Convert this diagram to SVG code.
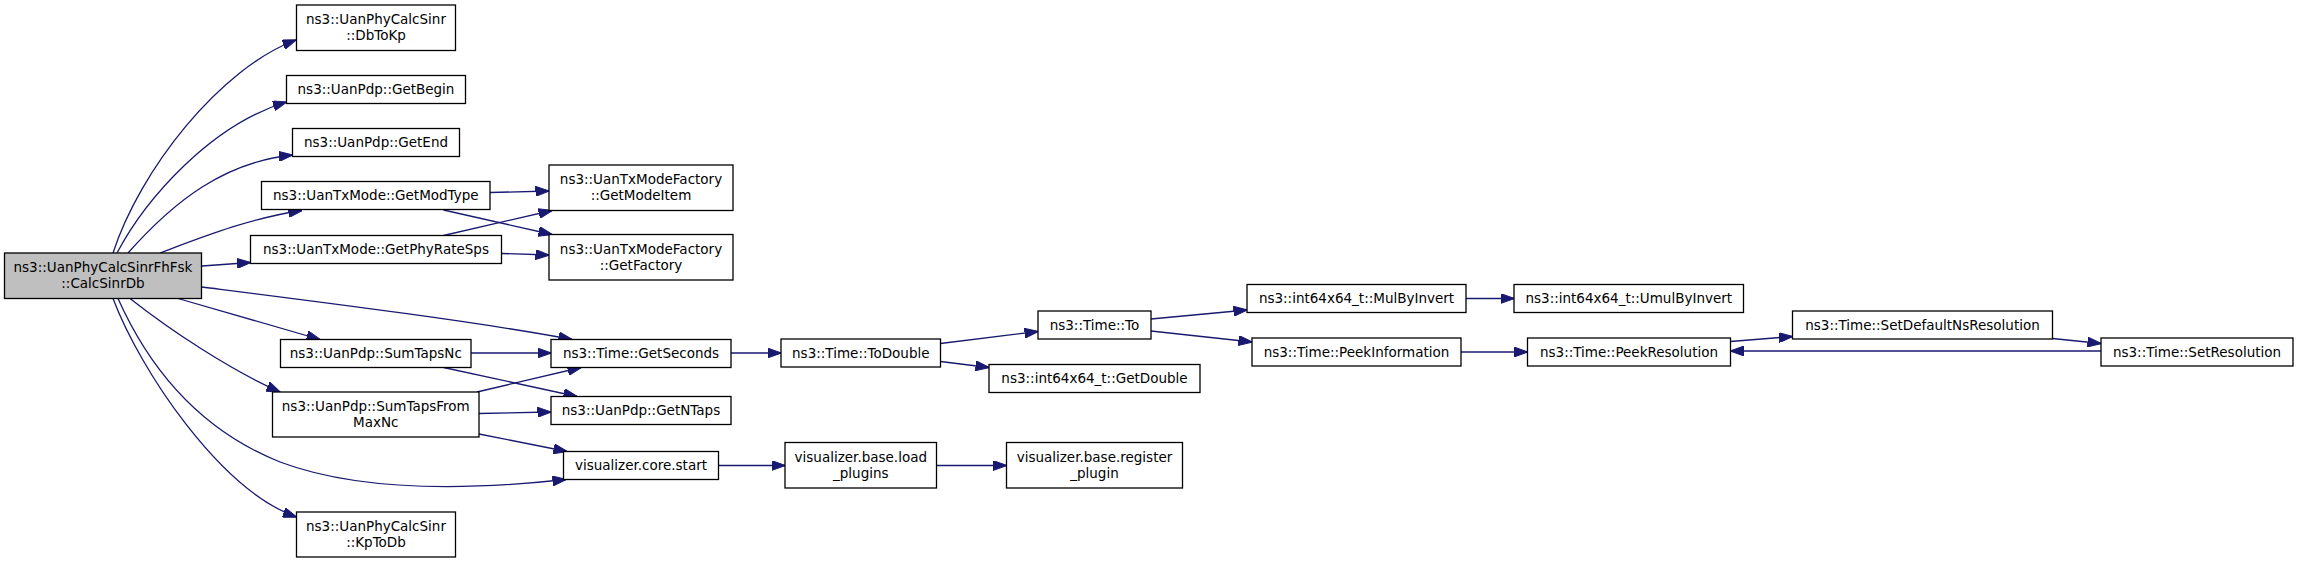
<svg xmlns="http://www.w3.org/2000/svg" width="2299" height="563" viewBox="0 0 2299 563">
<style>
.n rect{fill:#ffffff;stroke:#000000;stroke-width:1.3}
.n.main rect{fill:#bfbfbf}
.n text{font-family:"DejaVu Sans","Liberation Sans",sans-serif;font-size:13.5px;text-anchor:middle;fill:#000000}
.e path{fill:none;stroke:#191970;stroke-width:1.3;marker-end:url(#ah)}
</style>
<defs>
<marker id="ah" markerUnits="userSpaceOnUse" viewBox="0 0 14 10" markerWidth="14" markerHeight="10" refX="13.5" refY="5" orient="auto">
<path d="M0,0 L14,5 L0,10 z" fill="#191970" stroke="#191970" stroke-width="1"/>
</marker>
</defs>
<rect x="0" y="0" width="2299" height="563" fill="#ffffff"/>
<g id="edges" class="e">
<path d="M113,253 C140,170 220,68 296,40"/>
<path d="M117,253 C145,200 210,125 286.5,102"/>
<path d="M128,253 C175,200 225,162 292.5,155"/>
<path d="M160,253 C200,238 250,218 302,210.5"/>
<path d="M202,266 L250.5,262.5"/>
<path d="M202,287 C320,302 480,322 572,339.5"/>
<path d="M178,298.5 L320,339.5"/>
<path d="M130,298.5 C170,330 230,370 280,392"/>
<path d="M118,298.5 C150,370 200,430 280,462 C360,492 470,490 566,479.5"/>
<path d="M113,298.5 C140,370 220,490 296.5,517"/>
<path d="M490,192.5 L549,191"/>
<path d="M443.5,210 L552,234.5"/>
<path d="M443.5,235.5 L552,210.5"/>
<path d="M501.5,253.5 L549,255"/>
<path d="M471,353 L551,353"/>
<path d="M443.5,367.5 L577,396.5"/>
<path d="M477,392 L581,367.5"/>
<path d="M479,413.5 L551,412"/>
<path d="M479,434 L567,451.5"/>
<path d="M731,353 L781,353"/>
<path d="M940.5,343.5 L1038,331.5"/>
<path d="M940.5,361.5 L989,367.5"/>
<path d="M1151,319 L1247,310"/>
<path d="M1151,331 L1252,342"/>
<path d="M1466,298.5 L1514,298.5"/>
<path d="M1461,352 L1527.5,352"/>
<path d="M1730.5,341.5 L1792.5,336.5"/>
<path d="M2052.5,338.5 L2101,343.5"/>
<path d="M2101,351 L1730.5,351"/>
<path d="M718.5,465.5 L785,465.5"/>
<path d="M936.5,465.5 L1006.5,465.5"/>
</g>
<g id="main" class="n main"><rect x="4.5" y="253" width="197" height="45.5"/><text x="103" y="272">ns3::UanPhyCalcSinrFhFsk</text><text x="103" y="288">::CalcSinrDb</text></g>
<g id="DbToKp" class="n"><rect x="296.5" y="5" width="159" height="45.5"/><text x="376" y="24">ns3::UanPhyCalcSinr</text><text x="376" y="40">::DbToKp</text></g>
<g id="GetBegin" class="n"><rect x="286.5" y="75.5" width="179" height="28"/><text x="376" y="94.3">ns3::UanPdp::GetBegin</text></g>
<g id="GetEnd" class="n"><rect x="292.5" y="128.5" width="167" height="28"/><text x="376" y="147.3">ns3::UanPdp::GetEnd</text></g>
<g id="GetModType" class="n"><rect x="261.5" y="181.5" width="228.5" height="28"/><text x="375.8" y="200.3">ns3::UanTxMode::GetModType</text></g>
<g id="GetPhyRateSps" class="n"><rect x="250.5" y="235.5" width="251" height="28"/><text x="376" y="254.3">ns3::UanTxMode::GetPhyRateSps</text></g>
<g id="SumTapsNc" class="n"><rect x="280.5" y="339.5" width="190.5" height="28"/><text x="375.8" y="358.3">ns3::UanPdp::SumTapsNc</text></g>
<g id="SumTapsFromMaxNc" class="n"><rect x="272.5" y="392" width="206.5" height="45"/><text x="375.8" y="411">ns3::UanPdp::SumTapsFrom</text><text x="375.8" y="427">MaxNc</text></g>
<g id="KpToDb" class="n"><rect x="296.5" y="512" width="159" height="45"/><text x="376" y="531">ns3::UanPhyCalcSinr</text><text x="376" y="547">::KpToDb</text></g>
<g id="GetModeItem" class="n"><rect x="549" y="165" width="184" height="45.5"/><text x="641" y="184">ns3::UanTxModeFactory</text><text x="641" y="200">::GetModeItem</text></g>
<g id="GetFactory" class="n"><rect x="549" y="234.5" width="184" height="45.5"/><text x="641" y="253.5">ns3::UanTxModeFactory</text><text x="641" y="269.5">::GetFactory</text></g>
<g id="GetSeconds" class="n"><rect x="551" y="339.5" width="180" height="28"/><text x="641" y="358.3">ns3::Time::GetSeconds</text></g>
<g id="GetNTaps" class="n"><rect x="551" y="396.5" width="180" height="28"/><text x="641" y="415.3">ns3::UanPdp::GetNTaps</text></g>
<g id="coreStart" class="n"><rect x="563.5" y="451.5" width="155" height="28"/><text x="641" y="470.3">visualizer.core.start</text></g>
<g id="ToDouble" class="n"><rect x="781" y="339" width="159.5" height="28"/><text x="860.8" y="357.8">ns3::Time::ToDouble</text></g>
<g id="TimeTo" class="n"><rect x="1038" y="311" width="113" height="28"/><text x="1094.5" y="329.8">ns3::Time::To</text></g>
<g id="GetDouble" class="n"><rect x="989" y="364.5" width="211" height="28"/><text x="1094.5" y="383.3">ns3::int64x64_t::GetDouble</text></g>
<g id="MulByInvert" class="n"><rect x="1247" y="284.5" width="219" height="28"/><text x="1356.5" y="303.3">ns3::int64x64_t::MulByInvert</text></g>
<g id="PeekInformation" class="n"><rect x="1252" y="338" width="209" height="28"/><text x="1356.5" y="356.8">ns3::Time::PeekInformation</text></g>
<g id="loadPlugins" class="n"><rect x="785" y="442.5" width="151.5" height="45.5"/><text x="860.8" y="461.5">visualizer.base.load</text><text x="860.8" y="477.5">_plugins</text></g>
<g id="registerPlugin" class="n"><rect x="1006.5" y="442.5" width="176" height="45.5"/><text x="1094.5" y="461.5">visualizer.base.register</text><text x="1094.5" y="477.5">_plugin</text></g>
<g id="UmulByInvert" class="n"><rect x="1514" y="284.5" width="229.5" height="28"/><text x="1628.8" y="303.3">ns3::int64x64_t::UmulByInvert</text></g>
<g id="PeekResolution" class="n"><rect x="1527.5" y="338" width="203" height="28"/><text x="1629" y="356.8">ns3::Time::PeekResolution</text></g>
<g id="SetDefaultNsResolution" class="n"><rect x="1792.5" y="311" width="260" height="28"/><text x="1922.5" y="329.8">ns3::Time::SetDefaultNsResolution</text></g>
<g id="SetResolution" class="n"><rect x="2101" y="338" width="192" height="28"/><text x="2197" y="356.8">ns3::Time::SetResolution</text></g>
</svg>
